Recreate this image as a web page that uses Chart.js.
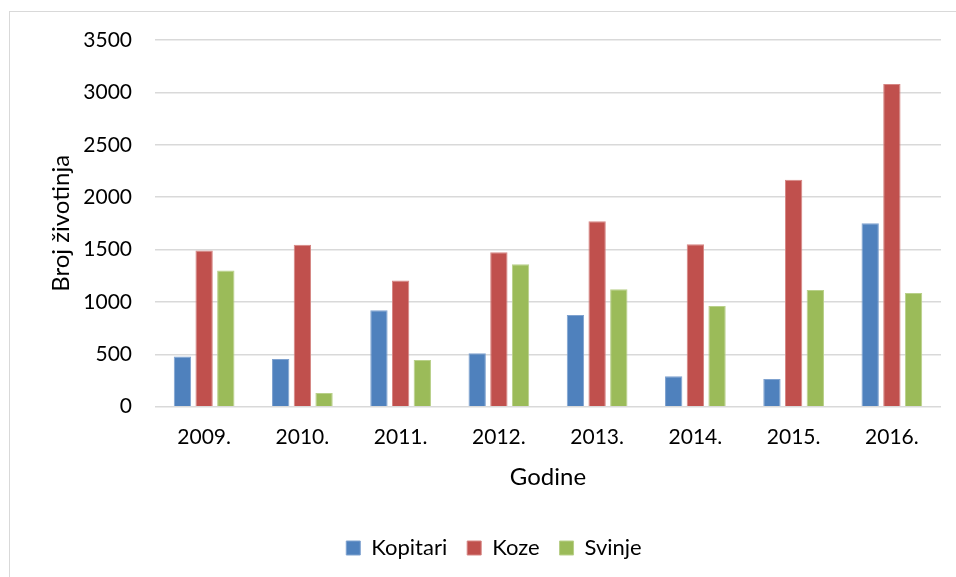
<!DOCTYPE html>
<html>
<head>
<meta charset="utf-8">
<script src="https://cdn.jsdelivr.net/npm/chart.js@4"></script>
<style>
  html, body { margin: 0; padding: 0; background: #fff; }
  #wrap { position: relative; width: 956px; height: 577px; overflow: hidden; }
  #frame { position: absolute; left: 9px; top: 11px; width: 1000px; height: 700px; border: 1px solid #d9d9d9; box-sizing: border-box; }
  #chart { position: absolute; left: 0; top: 0; }
</style>
</head>
<body>
<div id="wrap">
  <div id="frame"></div>
  <canvas id="chart" width="956" height="577"></canvas>
</div>
<script>
const years = ["2009.", "2010.", "2011.", "2012.", "2013.", "2014.", "2015.", "2016."];
const kopitari = [480, 455, 920, 510, 875, 290, 265, 1750];
const koze = [1490, 1545, 1205, 1475, 1770, 1550, 2165, 3080];
const svinje = [1300, 130, 445, 1360, 1120, 960, 1115, 1085];

const fontFamily = "Lato, 'Open Sans', sans-serif";

function barSet(label, data, color, edge) {
  return {
    label: label,
    data: data,
    backgroundColor: color,
    borderColor: edge,
    borderWidth: 1,
    categoryPercentage: 0.662,
    barPercentage: 0.8
  };
}

document.addEventListener("DOMContentLoaded", function () {
  const ctx = document.getElementById("chart").getContext("2d");
  new Chart(ctx, {
    type: "bar",
    data: {
      labels: years,
      datasets: [
        barSet("Kopitari", kopitari, "#4F81BD", "#7fa2cf"),
        barSet("Koze", koze, "#C0504D", "#d68583"),
        barSet("Svinje", svinje, "#9BBB59", "#b9d08a")
      ]
    },
    options: {
      responsive: false,
      animation: false,
      layout: { padding: { left: 47, right: 15, top: 40, bottom: 8 } },
      plugins: {
        legend: {
          position: "bottom",
          labels: {
            boxWidth: 14,
            boxHeight: 14,
            padding: 20,
            color: "#000",
            font: { family: fontFamily, size: 22 }
          }
        },
        tooltip: { enabled: false }
      },
      scales: {
        x: {
          grid: { display: false, drawTicks: false },
          border: { display: false },
          ticks: { color: "#000", padding: 18, font: { family: fontFamily, size: 21 } },
          title: {
            display: true,
            text: "Godine",
            color: "#000",
            padding: { top: 0, bottom: 25 },
            font: { family: fontFamily, size: 24 }
          },
          afterFit: function (s) { s.height = 110.3; }
        },
        y: {
          min: 0,
          max: 3500,
          ticks: {
            stepSize: 500,
            color: "#000",
            padding: 23,
            font: { family: fontFamily, size: 21 },
            callback: function (v) { return String(v); }
          },
          grid: { color: "#d9d9d9", lineWidth: 1.5, drawTicks: false },
          border: { display: false },
          title: {
            display: true,
            text: "Broj životinja",
            color: "#000",
            padding: { top: 0, bottom: 0 },
            font: { family: fontFamily, size: 24 }
          },
          afterFit: function (s) { s.width = 108; }
        }
      }
    }
  });
});
</script>
</body>
</html>
